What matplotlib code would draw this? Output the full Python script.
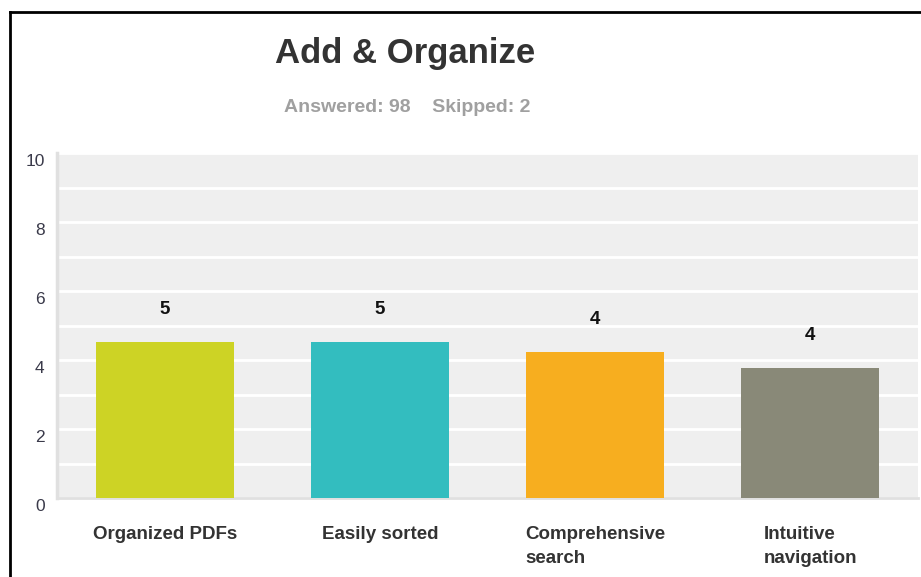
import numpy as np
import matplotlib.pyplot as plt
import matplotlib.transforms as mtransforms
from matplotlib.lines import Line2D

categories = ["Organized PDFs", "Easily sorted", "Comprehensive\nsearch", "Intuitive\nnavigation"]
values = [4.52, 4.52, 4.23, 3.77]
labels = ["5", "5", "4", "4"]
colors = ["#cdd325", "#33bdbf", "#f7ae1f", "#898978"]
yticks = [0, 2, 4, 6, 8, 10]

title = "Add & Organize"
subtitle = "Answered: 98    Skipped: 2"

plt.rcParams['font.family'] = ['Liberation Sans', 'DejaVu Sans']

fig = plt.figure(figsize=(9.21, 5.77), dpi=100)
ax = fig.add_axes([57 / 921, 79 / 577, 861 / 921, 345 / 577])
ax.set_facecolor("#efefef")

x = np.arange(len(categories))
ax.bar(x, values, width=0.64, color=colors, zorder=3)

# white grid lines every unit
for g in range(0, 11):
    ax.axhline(g, color="white", lw=2, zorder=1)

for xi, v, lab in zip(x, values, labels):
    ax.annotate(lab, (xi, v), xytext=(0, 17), textcoords="offset points",
                ha="center", va="bottom", fontsize=13.5, fontweight="bold", color="#111")

ax.set_xlim(-0.5, 3.5)
ax.set_ylim(0, 10)
ax.set_yticks(yticks)
ax.set_yticklabels([str(t) for t in yticks], fontsize=12.5, color="#3a3a4a")
ax.set_xticks(x)
ax.set_xticklabels(categories, fontsize=13.5, fontweight="bold", color="#333",
                   multialignment="left", linespacing=1.55)
ax.tick_params(axis="both", length=0)
ax.tick_params(axis="y", pad=9)
ax.tick_params(axis="x", pad=20)

# nudge y labels down a bit, like the original
off = mtransforms.ScaledTranslation(0, -7 / 100, fig.dpi_scale_trans)
for t in ax.get_yticklabels():
    t.set_transform(t.get_transform() + off)

for side in ["top", "right"]:
    ax.spines[side].set_visible(False)
ax.spines["left"].set_color("#e0e0e0")
ax.spines["left"].set_linewidth(2.5)
ax.spines["bottom"].set_color("#e0e0e0")
ax.spines["bottom"].set_linewidth(2)

fig.text(405 / 921, 1 - 53 / 577, title, ha="center", va="center",
         fontsize=25, fontweight="bold", color="#333")
fig.text(407 / 921, 1 - 107 / 577, subtitle, ha="center", va="center",
         fontsize=14, fontweight="bold", color="#a0a0a0")

# frame lines on top and left
fig.add_artist(Line2D([10 / 921, 1], [1 - 12 / 577, 1 - 12 / 577], color="black", lw=2,
                      transform=fig.transFigure))
fig.add_artist(Line2D([10 / 921, 10 / 921], [0, 1 - 12 / 577], color="black", lw=2,
                      transform=fig.transFigure))

fig.savefig("out.png", dpi=100)
